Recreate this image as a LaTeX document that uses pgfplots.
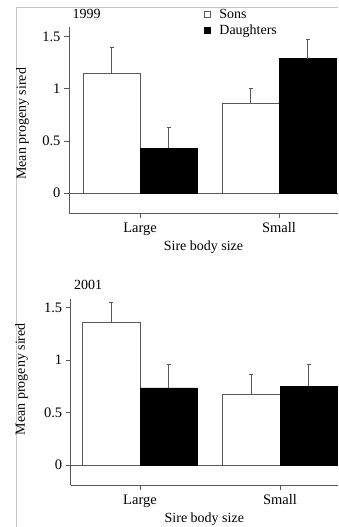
\documentclass[border=0pt]{standalone}
\usepackage{pgfplots}
\usepackage{pgfplotstable}
\pgfplotsset{compat=1.18}
\usepackage{fontspec}
\setmainfont{Liberation Serif}

% Mean progeny sired (with upper error) by sire body size;
% bars sit left (sons) and right (daughters) of each category tick
\pgfplotstableread{
x son sonerr dau dauerr
0 1.145 0.255 0.43  0.205
1 0.86  0.14  1.29  0.18
}\yearA
\pgfplotstableread{
x son sonerr dau dauerr
0 1.365 0.19 0.735 0.227
1 0.67  0.19 0.752 0.21
}\yearB

\definecolor{axisgray}{gray}{0.35}
\newcommand{\labelfont}{\fontsize{14}{16}\selectfont}

\pgfplotsset{
  panel/.style={
    scale only axis,
    anchor=south west,
    axis x line*=bottom,
    axis y line*=left,
    axis line style={axisgray, line width=0.8pt, -},
    tick align=outside,
    major tick length=5pt,
    tick style={axisgray, line width=0.7pt},
    ymin=-0.19,
    ytick={0,0.5,1,1.5},
    yticklabels={0,0.5,1,1.5},
    xtick={0,1},
    xticklabels={Large,Small},
    tick label style={font=\fontsize{14.5}{16}\selectfont},
    xticklabel style={yshift=-1pt},
    /pgf/number format/assume math mode=true,
    xlabel={Sire body size},
    ylabel={Mean progeny sired},
    every axis x label/.style={at={(axis description cs:0.5,0)}, anchor=north, yshift=-24pt, font=\labelfont},
    clip=false,
  },
  errs/.style={
    error bars/y dir=plus,
    error bars/y explicit,
    error bars/error bar style={axisgray, line width=0.7pt},
    error bars/error mark options={axisgray, line width=0.7pt, mark size=2pt, rotate=90},
  },
  sons/.style={
    ybar, bar width=0.41, bar shift=0pt,
    draw=axisgray, fill=white, line width=0.7pt, errs,
  },
  daughters/.style={
    ybar, bar width=0.41, bar shift=0pt,
    draw=black, fill=black, line width=0.7pt, errs,
  },
}

\begin{document}
\begin{tikzpicture}
\useasboundingbox (0,0) rectangle (338pt,527pt);
% page frame lines
\draw[black!22, line width=0.6pt] (16pt,0pt) -- (16pt,520pt) -- (338pt,520pt);

% ---- 1999 ----
\begin{axis}[panel,
  at={(69pt,314pt)},
  width=269pt, height=185.7pt,
  xmin=-0.511, xmax=1.424,
  ymax=1.59,
  every axis y label/.style={at={(axis description cs:-0.173,0.48)}, rotate=90, anchor=center, font=\labelfont},
  legend style={at={(axis description cs:0.5,1.105)}, anchor=north west,
    draw=none, fill=none, font=\labelfont,
    row sep=3pt, inner sep=0pt,
    nodes={inner sep=1pt},
    /tikz/every odd column/.append style={column sep=8pt}},
  legend cell align=left,
]
\addplot[axisgray, line width=0.8pt, forget plot] coordinates {(-0.511,0) (1.424,0)};
\addplot[sons,
  legend image code/.code={\draw[axisgray, fill=white, line width=0.6pt] (0pt,-3pt) rectangle (6pt,3pt);}]
  table[x expr=\thisrow{x}-0.205, y=son, y error=sonerr] {\yearA};
\addlegendentry{Sons}
\addplot[daughters,
  legend image code/.code={\draw[black, fill=black] (0pt,-3pt) rectangle (6pt,3pt);}]
  table[x expr=\thisrow{x}+0.205, y=dau, y error=dauerr] {\yearA};
\addlegendentry{Daughters}
\node[anchor=west, font=\labelfont] at (axis description cs:0.0,1.072) {1999};
\end{axis}

% ---- 2001 ----
\begin{axis}[panel,
  at={(70.7pt,42pt)},
  width=267.3pt, height=185.7pt,
  xmin=-0.495, xmax=1.414,
  ymax=1.58,
  every axis y label/.style={at={(axis description cs:-0.184,0.57)}, rotate=90, anchor=center, font=\labelfont},
]
\addplot[axisgray, line width=0.8pt, forget plot] coordinates {(-0.495,0) (1.414,0)};
\addplot[sons] table[x expr=\thisrow{x}-0.205, y=son, y error=sonerr] {\yearB};
\addplot[daughters] table[x expr=\thisrow{x}+0.205, y=dau, y error=dauerr] {\yearB};
\node[anchor=west, font=\labelfont] at (axis description cs:0.0,1.077) {2001};
\end{axis}
\end{tikzpicture}
\end{document}
